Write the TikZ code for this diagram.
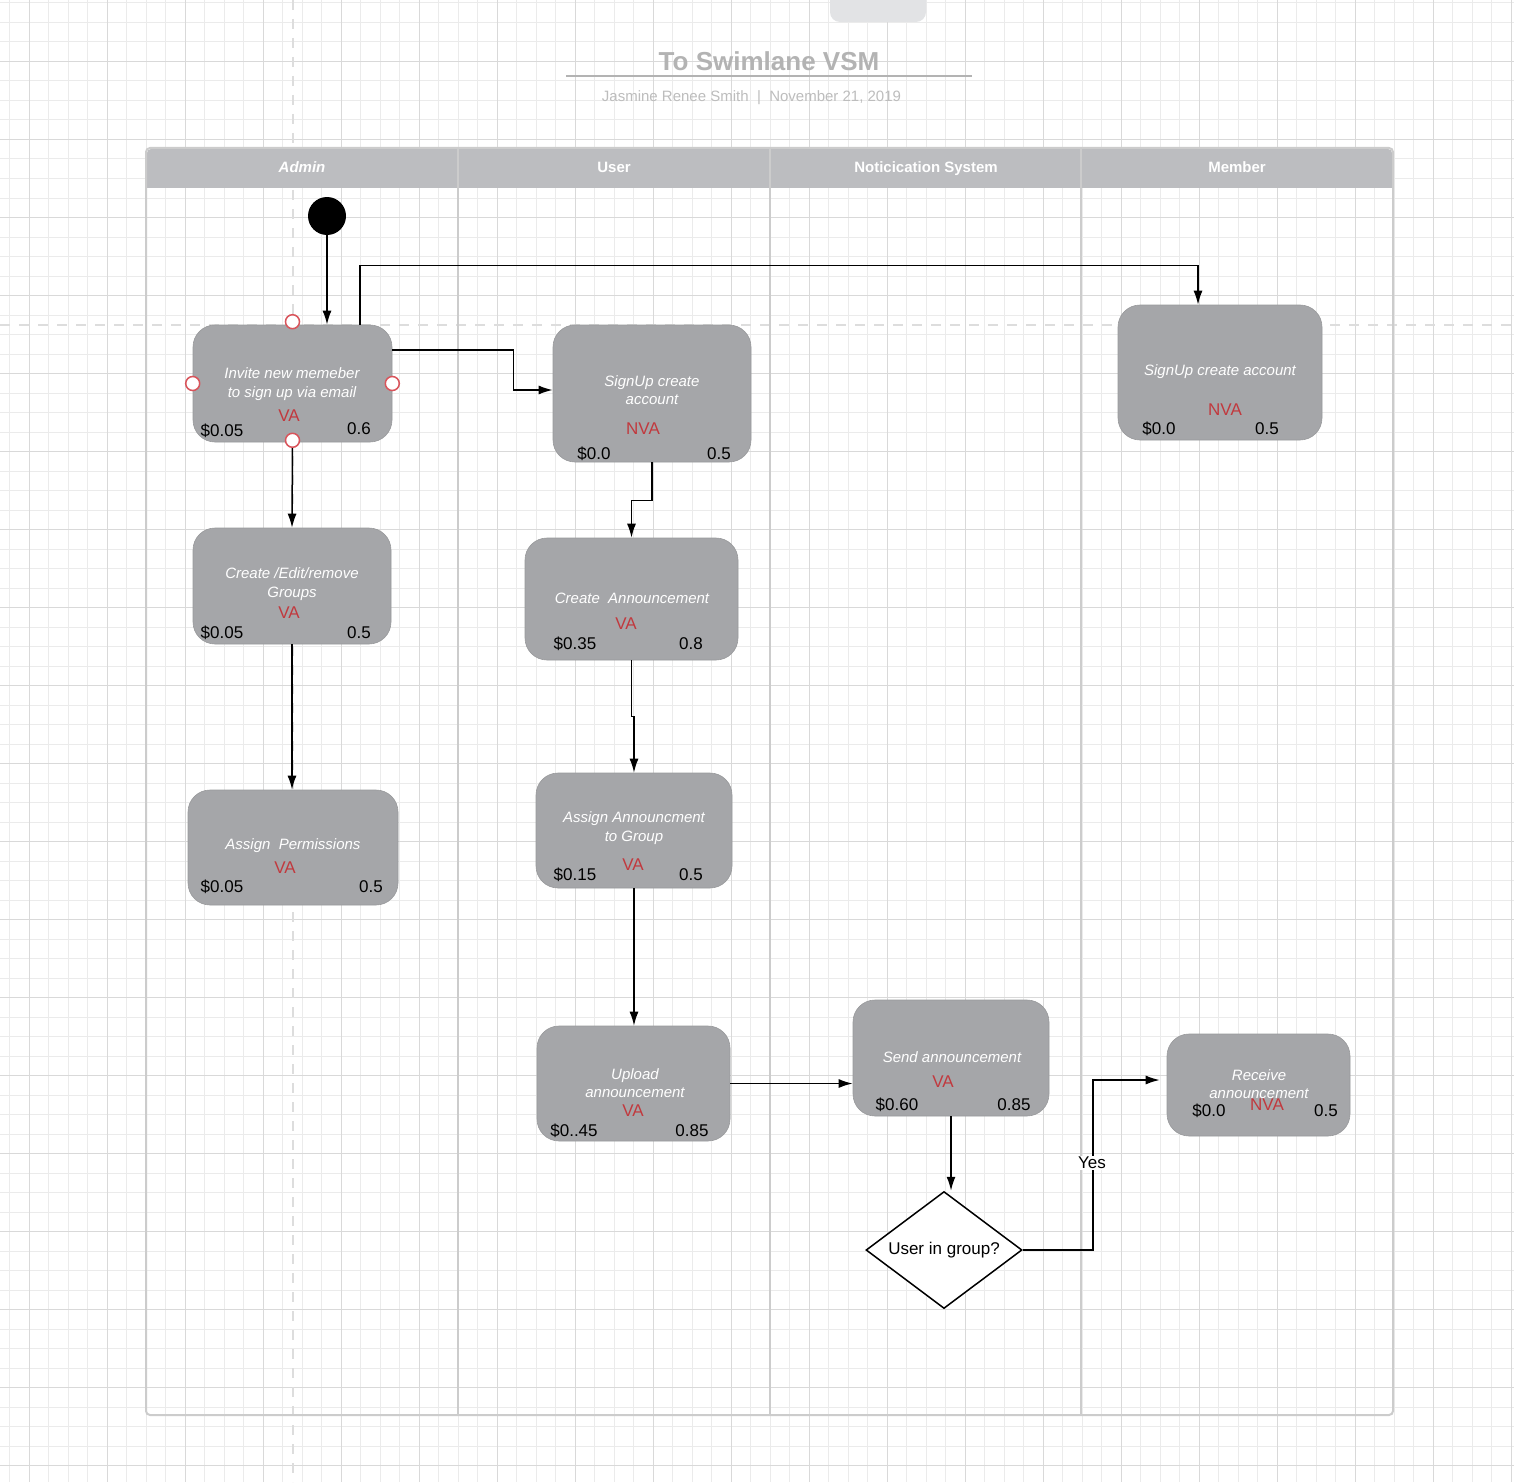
\documentclass[tikz,border=0pt]{standalone}
\usepackage{fontspec}
\setmainfont{Liberation Sans}
\usetikzlibrary{arrows.meta,shapes.geometric,calc}
\definecolor{gridmin}{HTML}{EBEBEB}
\definecolor{gridmaj}{HTML}{D9D9D9}
\definecolor{guidegray}{HTML}{DDDDDD}
\definecolor{boxgray}{HTML}{A5A6A9}
\definecolor{headgray}{HTML}{BCBDC0}
\definecolor{lanegray}{HTML}{CCCCCC}
\definecolor{tabgray}{HTML}{E2E3E5}
\definecolor{vared}{HTML}{C1393E}
\definecolor{titlegray}{HTML}{B3B3B3}
\definecolor{subgray}{HTML}{BDBDBD}
\definecolor{portred}{HTML}{D9545B}
\tikzset{
  procbox/.style={draw=boxgray!92!black, line width=0.6pt, fill=boxgray, rounded corners=22pt, inner sep=0pt},
  procname/.style={text=white, font=\fontsize{15}{18.5}\selectfont\itshape, align=center},
  vatag/.style={text=vared, font=\fontsize{17}{20}\selectfont},
  numtxt/.style={text=black, font=\fontsize{17}{20}\selectfont},
  flow/.style={line width=1.5pt, -{Latex[length=14pt,width=9pt]}},
  port/.style={circle, draw=portred, line width=1.5pt, fill=white, minimum size=14pt, inner sep=0pt},
  lanehead/.style={text=white, font=\fontsize{15}{18}\selectfont\bfseries, text height=11pt, text depth=3pt},
  guide/.style={draw=guidegray, line width=2.5pt, dash pattern=on 10pt off 9pt},
}
\begin{document}
\begin{tikzpicture}[x=1pt,y=-1pt]
  \useasboundingbox (0,0) rectangle (1514,1482);
  \fill[white] (0,0) rectangle (1514,1482);
  % background grid
  \foreach \gx in {0,...,77}
    \draw[gridmin, line width=1pt] ({9.5+19.5*\gx},0) -- ++(0,1482);
  \foreach \gy in {0,...,75}
    \draw[gridmin, line width=1pt] (0,{3+19.5*\gy}) -- ++(1514,0);
  \foreach \gx in {0,...,19}
    \draw[gridmaj, line width=1pt] ({29+78*\gx},0) -- ++(0,1482);
  \foreach \gy in {0,...,18}
    \draw[gridmaj, line width=1pt] (0,{61.5+78*\gy}) -- ++(1514,0);
  \draw[guide] (293,0) -- (293,1482);
  \draw[guide] (0,325) -- (1514,325);
  \fill[tabgray, rounded corners=10pt] (830,-20) rectangle (926,22);

  % title
  \node[text=titlegray, font=\fontsize{26}{30}\selectfont\bfseries] (title) at (769,61) {To Swimlane VSM};
  \draw[titlegray, line width=2pt] (566,76) -- (972,76);
  \node[text=subgray, font=\fontsize{15}{18}\selectfont] (subtitle) at (751.5,98) {Jasmine Renee Smith \ |\ \ November 21, 2019};

  % swimlanes
  \fill[headgray] (147,188) [rounded corners=4pt] -- (147,149) -- (1392,149) [sharp corners] -- (1392,188) -- cycle;
  \draw[lanegray, line width=2pt, rounded corners=4pt] (146,148) rectangle (1393,1415);
  \foreach \lx in {458,770,1081}
    \draw[lanegray, line width=2pt] (\lx,148) -- (\lx,1415);
  \node[lanehead] (hadmin) at (302,168) {\itshape Admin};
  \node[lanehead] (huser) at (614,168) {User};
  \node[lanehead] (hnotify) at (926,168) {Noticication System};
  \node[lanehead] (hmember) at (1237,168) {Member};

  % start
  \node[circle, fill=black, minimum size=38pt, inner sep=0pt] (start) at (327,216) {};

  % process boxes
  \node[procbox, minimum width=199pt, minimum height=117pt] (invite) at (292.5,383.5) {};
  \node[procname] (invitetxt) at (292,384) {Invite new memeber\\to sign up via email};
  \node[vatag] (invitetag) at (289,416) {VA};
  \node[numtxt] (invitecost) at (222,431) {\$0.05};
  \node[numtxt] (invitetime) at (359,429) {0.6};

  \node[procbox, minimum width=198pt, minimum height=137pt] (signupU) at (652,393.5) {};
  \node[procname] (signupUtxt) at (652,390) {SignUp create\\account};
  \node[vatag] (signupUtag) at (643,429) {NVA};
  \node[numtxt] (signupUcost) at (594,454) {\$0.0};
  \node[numtxt] (signupUtime) at (719,454) {0.5};

  \node[procbox, minimum width=204pt, minimum height=135pt] (signupM) at (1220,372.5) {};
  \node[procname] (signupMtxt) at (1220,372) {SignUp create account};
  \node[vatag] (signupMtag) at (1225,410) {NVA};
  \node[numtxt] (signupMcost) at (1159,429) {\$0.0};
  \node[numtxt] (signupMtime) at (1267,429) {0.5};

  \node[procbox, minimum width=198pt, minimum height=116pt] (groups) at (292,586) {};
  \node[procname] (groupstxt) at (292,584) {Create /Edit/remove\\Groups};
  \node[vatag] (groupstag) at (289,613) {VA};
  \node[numtxt] (groupscost) at (222,633) {\$0.05};
  \node[numtxt] (groupstime) at (359,633) {0.5};

  \node[procbox, minimum width=210pt, minimum height=115pt] (perms) at (293,847.5) {};
  \node[procname] (permstxt) at (293,846) {Assign\ \ Permissions};
  \node[vatag] (permstag) at (285,868) {VA};
  \node[numtxt] (permscost) at (222,887) {\$0.05};
  \node[numtxt] (permstime) at (371,887) {0.5};

  \node[procbox, minimum width=213pt, minimum height=122pt] (createA) at (631.5,599) {};
  \node[procname] (createAtxt) at (632,598) {Create\ \ Announcement};
  \node[vatag] (createAtag) at (626,624) {VA};
  \node[numtxt] (createAcost) at (575,644) {\$0.35};
  \node[numtxt] (createAtime) at (691,644) {0.8};

  \node[procbox, minimum width=196pt, minimum height=115pt] (assignA) at (634,830.5) {};
  \node[procname] (assignAtxt) at (634,828) {Assign Announcment\\to Group};
  \node[vatag] (assignAtag) at (633,865) {VA};
  \node[numtxt] (assignAcost) at (575,875) {\$0.15};
  \node[numtxt] (assignAtime) at (691,875) {0.5};

  \node[procbox, minimum width=193pt, minimum height=115pt] (upload) at (633.5,1083.5) {};
  \node[procname] (uploadtxt) at (635,1083) {Upload\\announcement};
  \node[vatag] (uploadtag) at (633,1111) {VA};
  \node[numtxt] (uploadcost) at (574,1131) {\$0..45};
  \node[numtxt] (uploadtime) at (692,1131) {0.85};

  \node[procbox, minimum width=196pt, minimum height=116pt] (send) at (951,1058) {};
  \node[procname] (sendtxt) at (952,1057) {Send announcement};
  \node[vatag] (sendtag) at (943,1082) {VA};
  \node[numtxt] (sendcost) at (897,1105) {\$0.60};
  \node[numtxt] (sendtime) at (1014,1105) {0.85};

  \node[procbox, minimum width=183pt, minimum height=102pt] (receive) at (1258.5,1085) {};
  \node[procname] (receivetxt) at (1259,1084) {Receive\\announcement};
  \node[vatag] (receivetag) at (1267,1105) {NVA};
  \node[numtxt] (receivecost) at (1209,1111) {\$0.0};
  \node[numtxt] (receivetime) at (1326,1111) {0.5};

  % decision
  \node[diamond, draw=black, line width=1.5pt, fill=white, aspect=1.33,
        minimum width=156pt, minimum height=117pt, inner sep=0pt,
        font=\fontsize{17}{20}\selectfont] (dec) at (944,1250) {User in group?};

  % connection points
  \node[port] (invN) at ([yshift=3pt]invite.north) {};
  \node[port] (invW) at (invite.west) {};
  \node[port] (invE) at (invite.east) {};
  \node[port] (invS) at ([yshift=2pt]invite.south) {};

  % flows
  \draw[flow] (start.south) -- (start.south |- invite.north);
  \draw[flow] ([xshift=67.5pt]invite.north) -- ++(0,-59) -| ([xshift=-22pt]signupM.north);
  \draw[flow] ([yshift=33.5pt]invite.east) -- ++(121,0) |- ([yshift=3.5pt]signupU.west);
  \draw[flow] (invS) -- (groups.north);
  \draw[flow] (groups.south) -- (groups.south |- perms.north);
  \draw[flow] (signupU.south) -- ++(0,38) -| (createA.north);
  \draw[flow] (createA.south) -- ++(0,56) -| (assignA.north);
  \draw[flow] (assignA.south) -- (assignA.south |- upload.north);
  \draw[flow] (upload.east) -- (upload.east -| send.west);
  \draw[flow] (send.south) -- (send.south |- dec.north);
  \draw[flow] (dec.east) -- ++(70,0) |- ([xshift=-7pt,yshift=5pt]receive.west);
  \node[numtxt, fill=white, inner sep=1pt] (yes) at (1092,1163) {Yes};
\end{tikzpicture}
\end{document}
